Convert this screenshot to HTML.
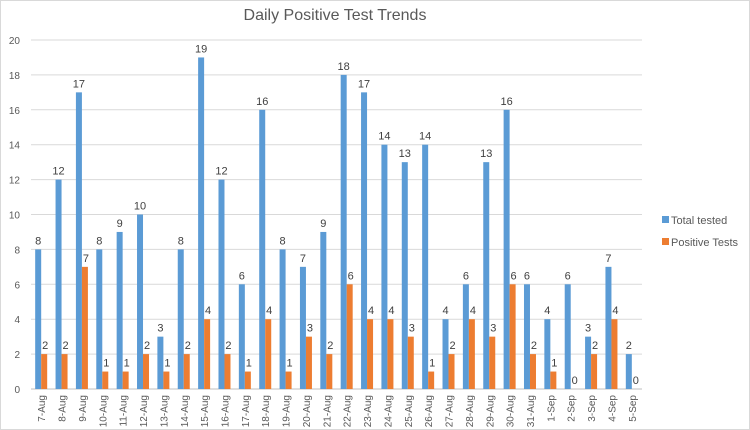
<!DOCTYPE html>
<html><head><meta charset="utf-8"><style>
body{margin:0;background:#fff;}
svg{display:block;font-family:"Liberation Sans",sans-serif;}
</style></head><body>
<svg id="c" width="750" height="430">
<rect x="0.5" y="0.5" width="749" height="429" fill="#fff" stroke="#d9d9d9"/>
<text x="335" y="20" text-anchor="middle" font-size="16" fill="#595959">Daily Positive Test Trends</text>
<g id="grid"></g><g id="bars"></g><g id="labels"></g>
<g>
<rect x="662" y="216" width="7" height="7" fill="#5b9bd5"/>
<text x="671" y="224" font-size="11" fill="#595959">Total tested</text>
<rect x="662" y="238" width="7" height="7" fill="#ed7d31"/>
<text x="671" y="246" font-size="11" fill="#595959">Positive Tests</text>
</g>
</svg>
<script>
const categories=["7-Aug","8-Aug","9-Aug","10-Aug","11-Aug","12-Aug","13-Aug","14-Aug","15-Aug","16-Aug","17-Aug","18-Aug","19-Aug","20-Aug","21-Aug","22-Aug","23-Aug","24-Aug","25-Aug","26-Aug","27-Aug","28-Aug","29-Aug","30-Aug","31-Aug","1-Sep","2-Sep","3-Sep","4-Sep","5-Sep"];
const totalTested=[8,12,17,8,9,10,3,8,19,12,6,16,8,7,9,18,17,14,13,14,4,6,13,16,6,4,6,3,7,2];
const positiveTests=[2,2,7,1,1,2,1,2,4,2,1,4,1,3,2,6,4,4,3,1,2,4,3,6,2,1,0,2,4,0];
const yTicks=[0,2,4,6,8,10,12,14,16,18,20];
const NS="http://www.w3.org/2000/svg";
const x0=31,x1=642,y0=389,y1=40,yMax=20;
const bw=(x1-x0)/categories.length;
const y=v=>y0-(v/yMax)*(y0-y1);
const xc=i=>x0+bw*(i+0.5);
function mk(t,a,p){const e=document.createElementNS(NS,t);for(const k in a)e.setAttribute(k,a[k]);p.appendChild(e);return e;}
const grid=document.getElementById('grid'),bars=document.getElementById('bars'),labels=document.getElementById('labels');
yTicks.forEach(t=>{
 const l=mk('line',{x1:x0,x2:x1,y1:y(t),y2:y(t),stroke:t===0?'#bfbfbf':'#d9d9d9','stroke-width':1},grid);
 
 
 const tx=mk('text',{x:20,y:y(t)+4,'text-anchor':'end','font-size':10,fill:'#595959'},grid);
 tx.textContent=t;
 
 
});
categories.forEach((c,i)=>{
 const cx=xc(i);
 const b1=mk('rect',{x:cx-6,y:y(totalTested[i]),width:6,height:y0-y(totalTested[i]),fill:'#5b9bd5'},bars);
 
 
 const b2=mk('rect',{x:cx,y:y(positiveTests[i]),width:6,height:y0-y(positiveTests[i]),fill:'#ed7d31'},bars);
 
 
 const t1=mk('text',{x:cx-3,y:y(totalTested[i])-5,'text-anchor':'middle','font-size':11,fill:'#404040'},labels);
 t1.textContent=totalTested[i];
 
 
 const t2=mk('text',{x:cx+4,y:y(positiveTests[i])-5,'text-anchor':'middle','font-size':11,fill:'#404040'},labels);
 t2.textContent=positiveTests[i];
 
 
 const xl=mk('text',{x:0,y:0,'text-anchor':'end','font-size':10,fill:'#595959',transform:`translate(${cx+4},395) rotate(-90)`},labels);
 xl.textContent=c;
 
 
});
</script>
</body></html>
